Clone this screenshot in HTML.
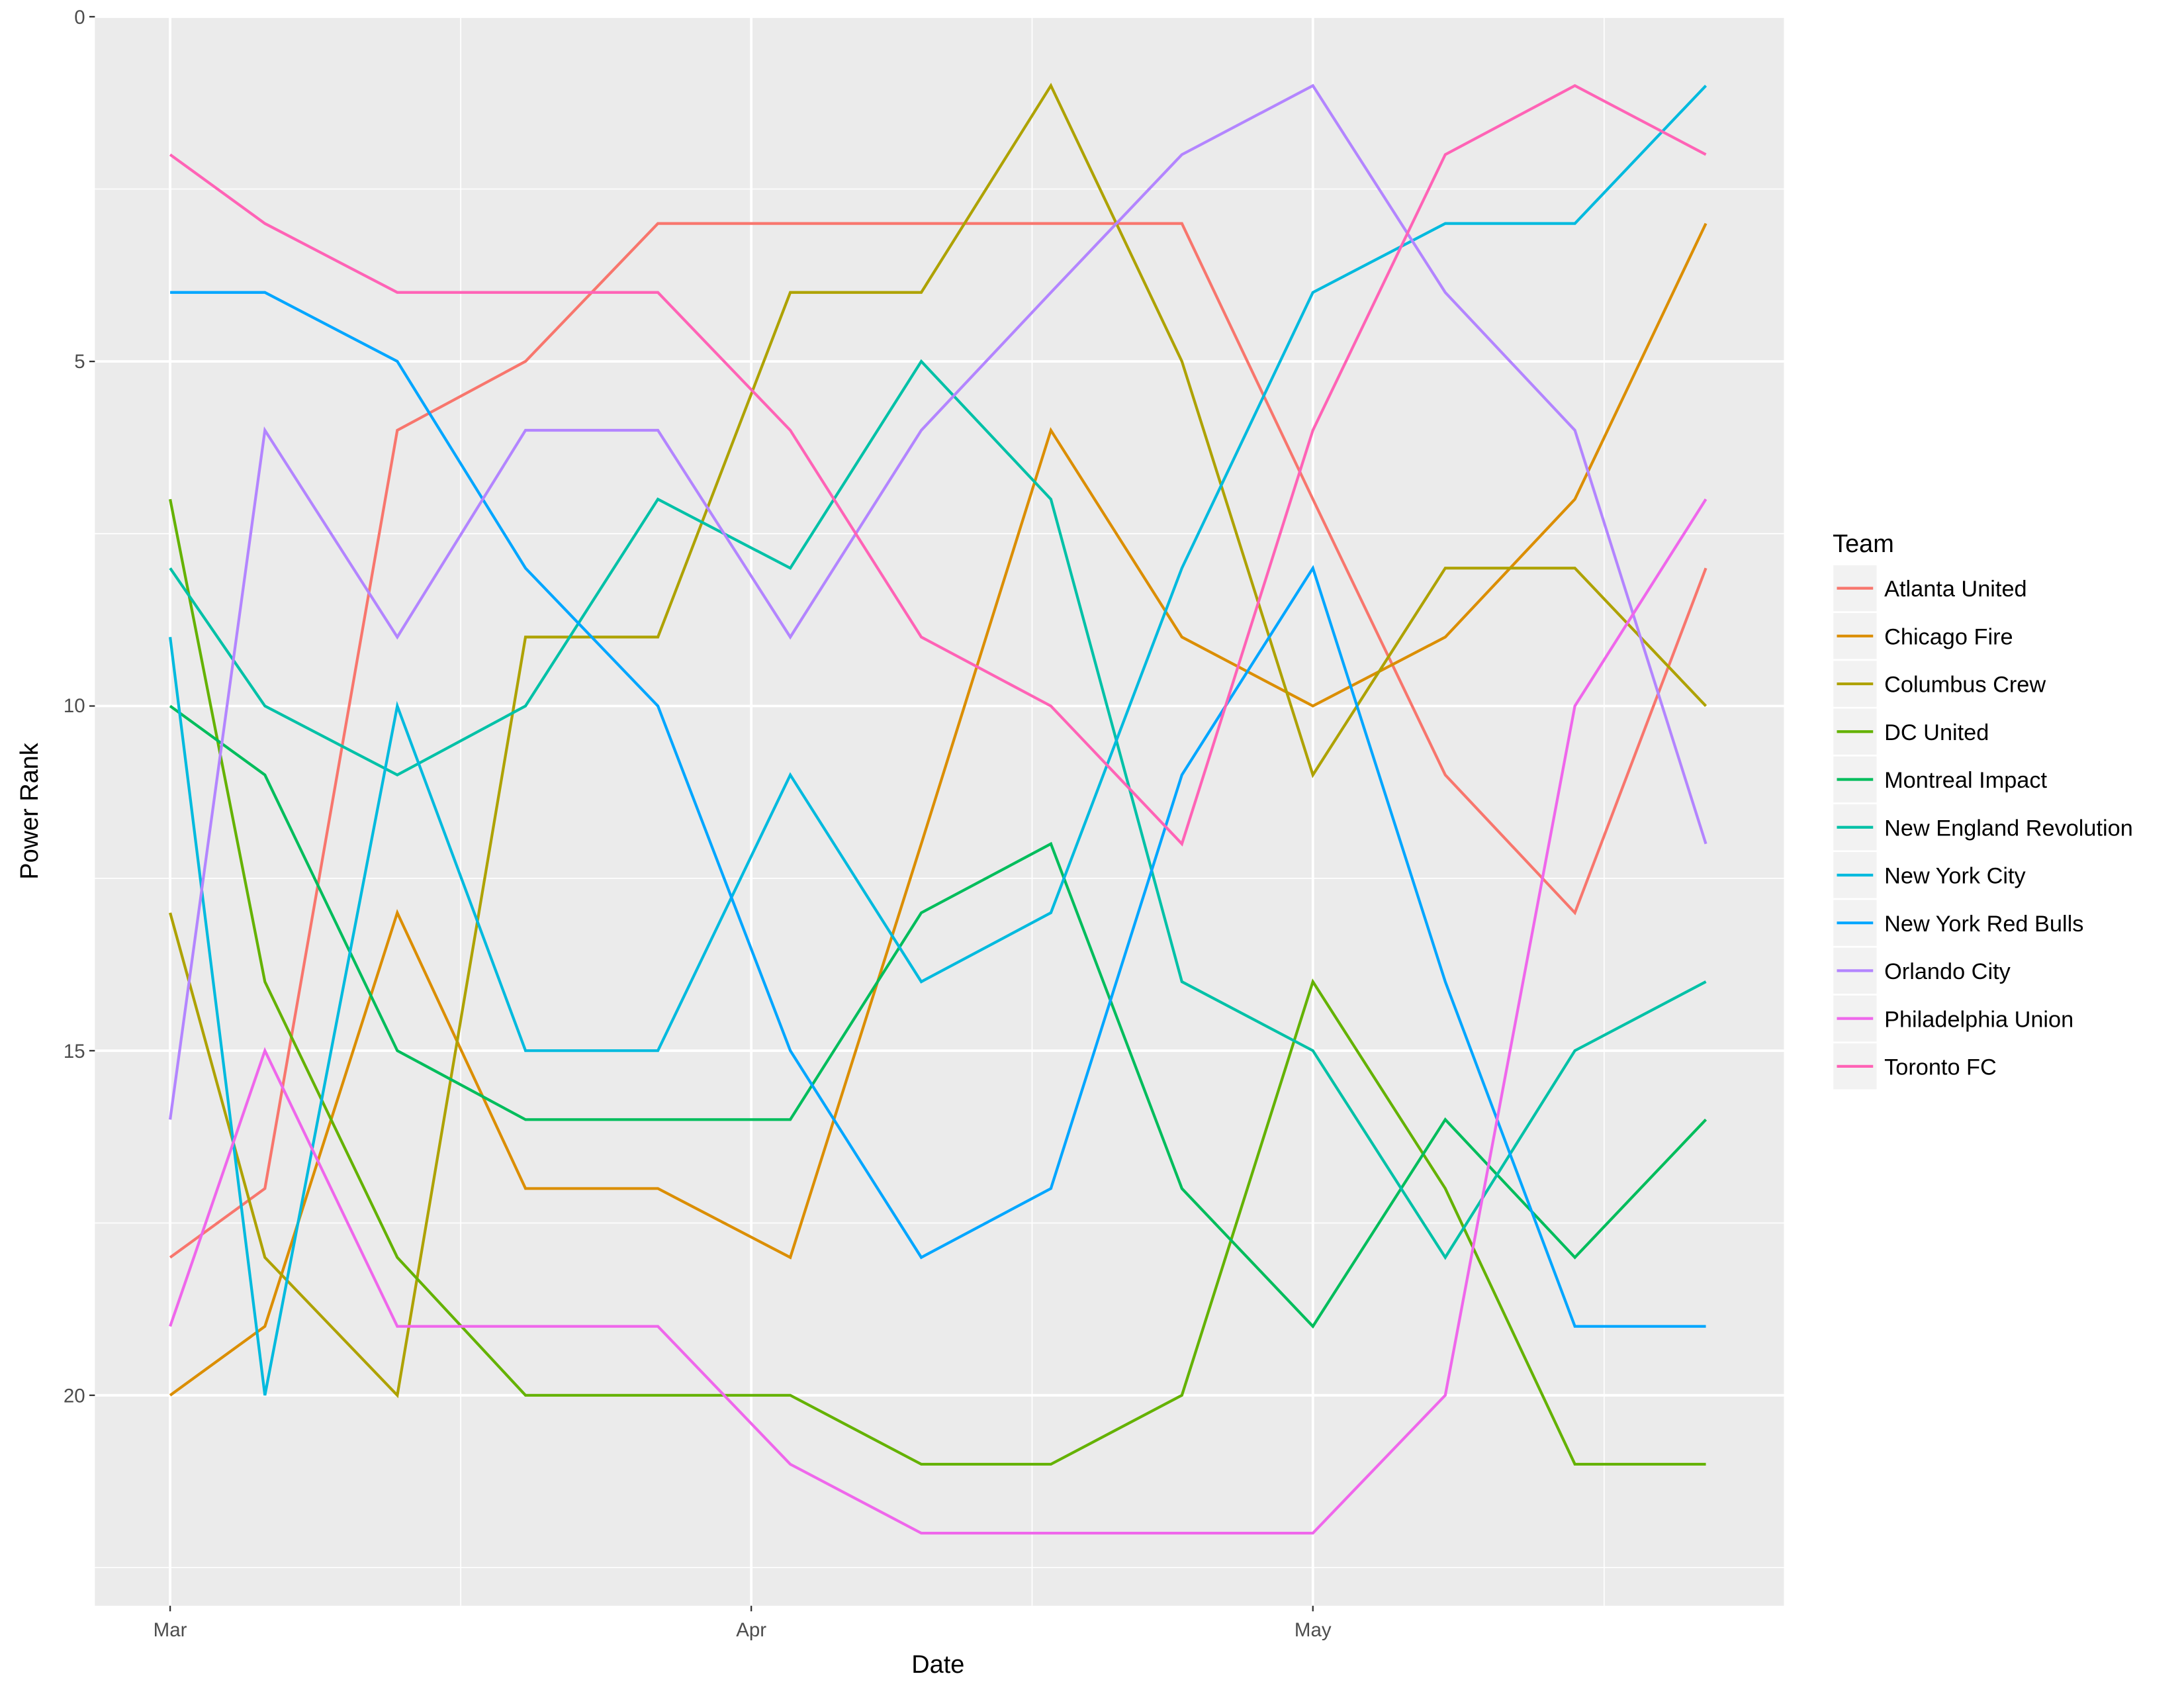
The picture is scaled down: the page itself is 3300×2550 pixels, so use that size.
<!DOCTYPE html>
<html><head><meta charset="utf-8"><style>html,body{margin:0;padding:0;background:#fff}svg{display:block}</style></head><body>
<svg xmlns="http://www.w3.org/2000/svg" width="3300" height="2550" viewBox="0 0 1567 1211" font-family="Liberation Sans, sans-serif">
<rect x="0" y="0" width="1567" height="1211" fill="#fff"/>
<rect x="68" y="12" width="1212" height="1140" fill="#EBEBEB"/>
<g stroke="#fff" stroke-width="0.8">
<line x1="68" x2="1280" y1="135.6" y2="135.6"/><line x1="68" x2="1280" y1="382.9" y2="382.9"/><line x1="68" x2="1280" y1="630.1" y2="630.1"/><line x1="68" x2="1280" y1="877.4" y2="877.4"/><line x1="68" x2="1280" y1="1124.6" y2="1124.6"/>
<line y1="12" y2="1152" x1="330.5" x2="330.5"/><line y1="12" y2="1152" x1="740.5" x2="740.5"/><line y1="12" y2="1152" x1="1151" x2="1151"/>
</g>
<g stroke="#fff" stroke-width="1.8">
<line x1="68" x2="1280" y1="12" y2="12"/><line x1="68" x2="1280" y1="259.3" y2="259.3"/><line x1="68" x2="1280" y1="506.5" y2="506.5"/><line x1="68" x2="1280" y1="753.8" y2="753.8"/><line x1="68" x2="1280" y1="1001" y2="1001"/>
<line y1="12" y2="1152" x1="122" x2="122"/><line y1="12" y2="1152" x1="539" x2="539"/><line y1="12" y2="1152" x1="942" x2="942"/>
</g>
<g stroke="#333" stroke-width="1.1">
<line x1="64" x2="68" y1="12" y2="12"/><line x1="64" x2="68" y1="259.3" y2="259.3"/><line x1="64" x2="68" y1="506.5" y2="506.5"/><line x1="64" x2="68" y1="753.8" y2="753.8"/><line x1="64" x2="68" y1="1001" y2="1001"/>
<line y1="1152" y2="1156" x1="122" x2="122"/><line y1="1152" y2="1156" x1="539" x2="539"/><line y1="1152" y2="1156" x1="942" x2="942"/>
</g>
<g font-size="14" fill="#4D4D4D" text-anchor="end">
<text x="61" y="17">0</text><text x="61" y="264">5</text><text x="61" y="511">10</text><text x="61" y="759">15</text><text x="61" y="1006">20</text>
</g>
<g font-size="14" fill="#4D4D4D" text-anchor="middle">
<text x="122" y="1174">Mar</text><text x="539" y="1174">Apr</text><text x="942" y="1174">May</text>
</g>
<text x="673" y="1200" font-size="18" text-anchor="middle">Date</text>
<text transform="translate(27,582) rotate(-90)" font-size="18" text-anchor="middle">Power Rank</text>
<g fill="none" stroke-width="2" id="lines"></g>
<g id="legend"></g>
<text x="1315" y="396" font-size="18">Team</text>
<script>
var xs=[122,190,285,377,472,567,661,754,848,942,1037,1130,1224];
function y(r){return 12+49.45*r;}
var S=[
["Atlanta United","#F8766D",[18,17,6,5,3,3,3,3,3,7,11,13,8]],
["Chicago Fire","#DB8E00",[20,19,13,17,17,18,12,6,9,10,9,7,3]],
["Columbus Crew","#AEA200",[13,18,20,9,9,4,4,1,5,11,8,8,10]],
["DC United","#64B200",[7,14,18,20,20,20,21,21,20,14,17,21,21]],
["Montreal Impact","#00BD5C",[10,11,15,16,16,16,13,12,17,19,16,18,16]],
["New England Revolution","#00C1A7",[8,10,11,10,7,8,5,7,14,15,18,15,14]],
["New York City","#00BADE",[9,20,10,15,15,11,14,13,8,4,3,3,1]],
["New York Red Bulls","#00A6FF",[4,4,5,8,10,15,18,17,11,8,14,19,19]],
["Orlando City","#B385FF",[16,6,9,6,6,9,6,4,2,1,4,6,12]],
["Philadelphia Union","#EF67EB",[19,15,19,19,19,21,22,22,22,22,20,10,7]],
["Toronto FC","#FF63B6",[2,3,4,4,4,6,9,10,12,6,2,1,2]]];
var ns="http://www.w3.org/2000/svg",g=document.getElementById("lines"),L=document.getElementById("legend");
S.forEach(function(s,i){
 var p=document.createElementNS(ns,"polyline");
 p.setAttribute("points",s[2].map(function(r,j){return xs[j]+","+y(r);}).join(" "));
 p.setAttribute("stroke",s[1]);g.appendChild(p);
 var cy=422+34.3*i;
 var r=document.createElementNS(ns,"rect");r.setAttribute("x",1315);r.setAttribute("y",cy-17);r.setAttribute("width",32);r.setAttribute("height",34);r.setAttribute("fill","#F2F2F2");r.setAttribute("stroke","#fff");L.appendChild(r);
 var l=document.createElementNS(ns,"line");l.setAttribute("x1",1318);l.setAttribute("x2",1344);l.setAttribute("y1",cy);l.setAttribute("y2",cy);l.setAttribute("stroke",s[1]);l.setAttribute("stroke-width",2);L.appendChild(l);
 var t=document.createElementNS(ns,"text");t.setAttribute("x",1352);t.setAttribute("y",cy+6);t.setAttribute("font-size","16.3");t.textContent=s[0];L.appendChild(t);
});
</script>
</svg>
</body></html>
